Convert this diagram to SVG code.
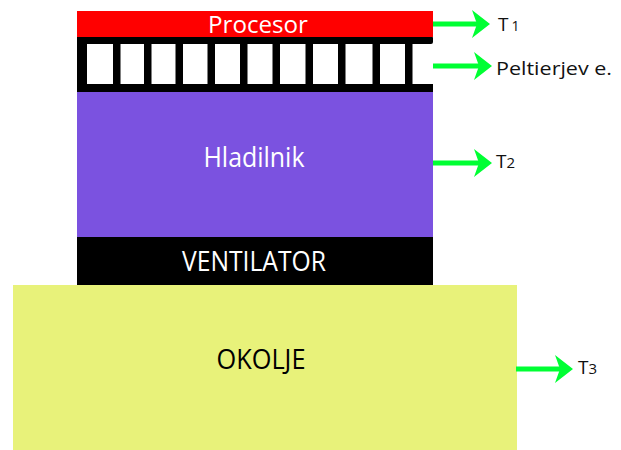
<svg xmlns="http://www.w3.org/2000/svg" width="621" height="450" viewBox="0 0 621 450">
<style>
.lbl{font-family:"Open Sans","Liberation Sans",sans-serif;text-anchor:middle}
.side{font-family:"Open Sans","Liberation Sans",sans-serif;fill:#111}
.ln{stroke:#00ff33;stroke-width:5;fill:none}
.hd{fill:#00ff33}
.blk{fill:#000}
</style>
<defs>
<path id="head" d="M0,0 L-18,-14 L-13,0 L-18,14 Z"/>
</defs>
<rect x="0" y="0" width="621" height="450" fill="#fff"/>
<g id="okolje">
<rect x="13" y="285" width="504" height="165" fill="#e8f27a"/>
<text class="lbl" x="261" y="369" font-size="27" textLength="89" lengthAdjust="spacingAndGlyphs" fill="#000">OKOLJE</text>
</g>
<g id="ventilator">
<rect x="77" y="236" width="356" height="49" fill="#000"/>
<text class="lbl" x="254" y="271" font-size="27" textLength="144" lengthAdjust="spacingAndGlyphs" fill="#fff">VENTILATOR</text>
</g>
<g id="hladilnik">
<rect x="77" y="92" width="356" height="145" fill="#7b52e0"/>
<text class="lbl" x="254" y="167" font-size="27" textLength="101" lengthAdjust="spacingAndGlyphs" fill="#fff">Hladilnik</text>
</g>
<g id="peltier">
<rect x="77" y="36" width="356" height="8" rx="2" class="blk"/>
<rect x="77" y="84" width="356" height="8" class="blk"/>
<rect x="77" y="36" width="10" height="56" class="blk"/>
<rect x="113" y="36" width="7.5" height="56" class="blk"/>
<rect x="144" y="36" width="7.5" height="56" class="blk"/>
<rect x="175.5" y="36" width="7.5" height="56" class="blk"/>
<rect x="207.5" y="36" width="7.5" height="56" class="blk"/>
<rect x="240" y="36" width="7.5" height="56" class="blk"/>
<rect x="272.5" y="36" width="7.5" height="56" class="blk"/>
<rect x="305.5" y="36" width="7.5" height="56" class="blk"/>
<rect x="338" y="36" width="7.5" height="56" class="blk"/>
<rect x="372.5" y="36" width="7.5" height="56" class="blk"/>
<rect x="405" y="36" width="7.5" height="56" class="blk"/>
</g>
<g id="procesor">
<rect x="77" y="11" width="356" height="26" fill="#ff0000"/>
<text class="lbl" x="258" y="33" font-size="24.5" textLength="100" lengthAdjust="spacingAndGlyphs" fill="#fff">Procesor</text>
</g>
<g id="connectors">
<line class="ln" x1="433" y1="24" x2="478" y2="24"/>
<use href="#head" class="hd" transform="translate(490,24)"/>
<line class="ln" x1="433" y1="66" x2="480" y2="66"/>
<use href="#head" class="hd" transform="translate(492,66)"/>
<line class="ln" x1="433" y1="163" x2="480" y2="163"/>
<use href="#head" class="hd" transform="translate(492,163)"/>
<line class="ln" x1="516" y1="369" x2="561" y2="369"/>
<use href="#head" class="hd" transform="translate(573,369)"/>
</g>
<g id="labels">
<text class="side" x="498" y="31" font-size="19">T<tspan dx="3" font-size="14">1</tspan></text>
<text class="side" x="496" y="75" font-size="19" textLength="116" lengthAdjust="spacingAndGlyphs">Peltierjev e.</text>
<text class="side" x="496" y="168" font-size="19">T<tspan font-size="15">2</tspan></text>
<text class="side" x="578" y="374" font-size="19">T<tspan font-size="15">3</tspan></text>
</g>
</svg>
